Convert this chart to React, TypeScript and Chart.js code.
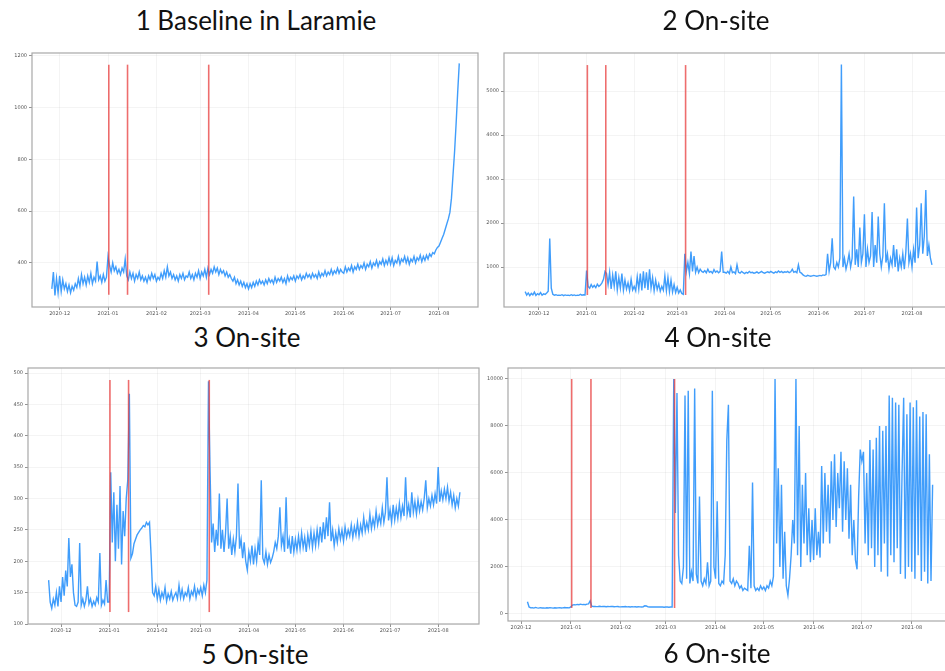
import React, { useEffect, useRef } from "react";
import { Chart, registerables } from "chart.js";

Chart.register(...registerables);

// ---------- shared axis data (x = days since 2020-12-01) ----------
const MONTH_TICKS = [0, 31, 62, 90, 121, 151, 182, 212, 243];
const MONTH_LABELS = ["2020-12", "2021-01", "2021-02", "2021-03", "2021-04", "2021-05", "2021-06", "2021-07", "2021-08"];
const EVENT_DAYS = [31.5, 43.5, 95.5];

// ---------- panel 1: Baseline in Laramie ----------
const P1_START_DAY = -5;
const P1_VALUES = [
  300, 365, 275, 340, 285, 350, 290, 335, 300, 320,
  290, 315, 285, 310, 295, 320, 305, 340, 310, 355,
  320, 345, 315, 350, 325, 360, 320, 345, 330, 405,
  335, 350, 325, 355, 330, 345,
  425, 390, 365, 400, 370, 385, 360, 375, 355, 380, 365, 415,
  350, 335, 365, 340, 360, 330, 355, 340, 365, 335,
  350, 330, 345, 325, 350, 335, 360, 340, 355, 330,
  345, 335, 360, 340, 370, 345, 385, 350, 365, 340,
  355, 335, 350, 330, 355, 340, 360, 335, 350, 345,
  365, 340, 355, 335, 360, 345, 370, 340, 365, 350, 375, 345,
  380, 355, 375, 360, 385, 365, 380, 355, 375, 360, 370, 350, 365, 345, 355, 340,
  330, 345, 320, 335, 315, 330, 310, 325, 305, 320,
  300, 320, 305, 325, 310, 330, 315, 335, 320, 330,
  315, 335, 320, 340, 325, 335, 320, 345, 325, 340,
  330, 345, 325, 340, 320, 350, 330, 345, 335, 350,
  330, 350, 340, 355, 335, 350, 340, 360, 345, 355,
  340, 360, 345, 355, 340, 365, 345, 360, 350, 370,
  350, 365, 355, 375, 355, 370, 360, 380, 360, 375, 365,
  360, 385, 365, 380, 370, 390, 365, 385, 375, 395,
  375, 390, 380, 400, 375, 395, 385, 405, 380, 400,
  390, 410, 385, 405, 395, 415, 390, 410, 395, 420,
  395, 420, 390, 410, 400, 425, 395, 415, 405, 425,
  400, 420, 395, 415, 405, 425, 400, 420, 410, 430,
  405, 425, 410, 430, 415, 435, 425, 440, 435, 450, 460,
  465, 480, 495, 510, 530, 550, 570, 595, 650, 740, 830, 940, 1060, 1170,
];
const P1_Y_TICKS = [400, 600, 800, 1000, 1200];
const P1_EVENT_RANGE = [277, 1165];

// ---------- panel 2 ----------
const P2_START_DAY = -9;
const P2_VALUES = [
  440, 360, 410, 350, 400, 365, 430, 355, 395, 370, 420, 360, 390, 375, 410,
  450, 1650, 520, 380, 360, 370, 355,
  360, 355, 370, 350, 365, 355, 360, 350, 370, 355, 365, 350, 360, 355, 380, 360, 370, 365,
  920,
  560, 520, 600, 540, 580, 530, 610, 560, 590, 640, 720,
  900, 850, 600, 880, 500, 820, 560, 900, 480, 760,
  520, 850, 470, 700, 500, 640, 460, 720, 480, 560,
  460, 780, 500, 850, 470, 900, 520, 880, 480, 950,
  520, 760, 460, 700, 490, 620, 450, 560, 470, 800,
  460, 760, 440, 700, 430, 600, 420, 540, 410, 480, 400, 380,
  1300,
  900, 1100, 850, 1350, 900, 1250, 880, 1000, 870, 950,
  900, 880, 920, 870, 950, 880, 900, 860, 940, 880, 910, 870, 900, 1350, 880,
  880, 860, 900, 850, 1000, 870, 890, 850, 1050, 880, 860, 900, 870, 850, 880, 860, 900, 870, 880, 860,
  870, 890, 860, 880, 900, 870, 860, 880, 890, 870, 900, 880, 860, 890, 870, 910, 880, 900, 870, 890,
  880, 900, 870, 890, 950, 880, 900, 870, 1050, 880, 860, 820, 800, 790, 810, 800, 790, 800, 810, 800, 790,
  800, 810, 800, 820, 810, 830, 1300, 900, 1100, 1650, 1000, 950, 1100, 1000, 1200, 5600, 1000, 1200, 950,
  1100, 1300, 1000, 1200, 2600, 1050, 1400, 1000, 1900, 1100, 1300, 2200,
  1000, 1400, 1100, 1250, 2250, 1000, 1500, 1100, 2150, 1300, 1000, 1250, 2450,
  1100, 1300, 950, 1200, 1050, 1500, 1000, 1400, 900, 1200, 1000, 1300, 950, 1350, 2100, 1100, 1300,
  1000, 1400, 1100, 2350, 1200, 1500, 2450, 1300, 1700, 2750, 1250, 1500, 1200, 1050,
];
const P2_Y_TICKS = [1000, 2000, 3000, 4000, 5000];
const P2_EVENT_RANGE = [364, 5590];

// ---------- panel 3 ----------
const P3_START_DAY = -8;
const P3_VALUES = [
  170, 135, 125, 140, 130, 150, 128, 160, 135,
  175, 145, 185, 160, 237, 175, 195, 150, 130, 128,
  135, 229, 130, 140, 128, 138, 160, 132, 140, 128, 136, 130, 142, 135, 213, 130, 138, 132, 170, 135,
  135, 342,
  230, 310, 200, 290, 220, 320, 195, 280, 240, 300, 330,
  467, 205,
  212, 228, 235, 242, 246, 250, 253, 257, 255, 262, 258, 262, 210,
  150,
  145, 160, 140, 155, 138, 150, 142, 158, 136, 148, 140, 152, 138, 145, 150, 140, 162, 142, 155, 140,
  150, 145, 158, 140, 152, 146, 160, 142, 155, 148, 158, 145, 162, 150, 170,
  487, 345, 230, 260, 215, 250, 225, 308, 220, 250, 215, 245, 300, 220, 240, 210, 235, 215, 240, 324,
  220, 235, 205, 230, 200, 186,
  215, 200, 225, 195, 220, 200, 230, 210, 329, 205, 197, 215, 195, 210, 198, 205, 215, 230, 220, 240,
  286, 225, 240, 215, 302, 220, 235, 212, 240, 215, 235, 218, 240, 220, 245, 222, 238, 215, 242, 225,
  248, 222, 245, 225, 250, 228, 255, 230, 262, 235, 270, 240, 294, 232, 250, 225, 245, 230, 252, 235,
  250, 232, 255, 238, 250, 240, 258, 238, 255, 242, 262, 240, 258, 245, 270, 248, 262, 250, 275, 252,
  268, 255, 280, 258, 272, 260, 285, 262, 278, 334, 265, 282, 262, 290, 266, 285, 268, 292, 270, 288,
  272, 334, 275, 290, 270, 310, 278, 295, 275, 298, 280, 295, 282, 300, 329, 285, 300, 288, 305, 290,
  308, 292, 350, 295, 312, 298, 315, 300, 318, 296, 310, 290, 305, 285, 300, 288, 310,
];
const P3_Y_TICKS = [100, 150, 200, 250, 300, 350, 400, 450, 500];
const P3_EVENT_RANGE = [119, 489];

// ---------- panel 4 ----------
const P4_START_DAY = 4;
const P4_VALUES = [
  520, 300, 260, 270, 250, 280, 260,
  250, 270, 255, 260, 250, 265, 255, 270, 260, 250, 265, 255, 260, 270, 255, 260, 275, 265, 270, 260,
  300, 380, 400, 390, 410, 395, 420, 400, 410, 395, 420, 430, 560,
  330, 320, 325, 315, 320, 330, 315, 325, 320, 310, 320, 315, 325, 320, 310, 315, 320, 310, 305, 315,
  310, 320, 305, 310, 300, 315, 305, 310, 300, 310, 305, 300, 310, 350, 340, 305, 300, 295, 305, 300,
  295, 300, 305, 295, 300, 290, 300, 295, 290, 300, 295,
  10000, 4300, 9400, 2500, 1400, 1300, 2000, 9300, 1500, 9500, 1300, 1800, 1400, 9600, 1700, 1300,
  5000, 1400, 1200, 1500, 1300, 2200, 1200, 1400, 9500, 2000,
  1500, 4800, 1300, 1200, 1400, 1300, 2500, 7400, 8900, 1400, 1300, 1500, 1200, 1400, 1300, 1100,
  1200, 1000, 1100, 1050,
  1000, 2900, 1100, 5600, 1200, 1000, 1100, 1000, 1200, 1050, 1150, 1000, 1200, 1100, 1400, 1200,
  1600, 10000, 3000, 6200,
  2000, 5500, 1500, 3500, 1200, 800, 1500, 2500, 4000, 3000, 10000, 2500, 8000, 2000, 5500, 3000,
  6000, 2500, 4500, 2200,
  4000, 2300, 4500, 2500, 3500, 2400, 6300, 3000, 6000, 3500, 5500, 3000, 6500, 4000, 6800, 3700,
  6000, 4500, 6900, 3500,
  6500, 4000, 6200, 3200, 5500, 2500, 4000, 2300, 1900, 5000, 7000, 6500, 6900, 3000, 6000, 2500,
  7400, 2800, 7000, 2000,
  7500, 2500, 8000, 1800, 7800, 3000, 8000, 1600, 9300, 2500, 9200, 2200, 9000, 2800, 8900, 1700,
  6000, 9200, 1500, 8500,
  2000, 9000, 1800, 8800, 1500, 9100, 2500, 8400, 1400, 8600, 1800, 8500, 1300, 6800, 1400, 5500,
];
const P4_Y_TICKS = [0, 2000, 4000, 6000, 8000, 10000];
const P4_EVENT_RANGE = [255, 10000];

// ---------- layout / styling ----------
type PanelCfg = {
  start: number; values: number[]; yTicks: number[]; eventRange: number[];
  left: number; top: number; width: number; height: number;
  padTop: number; padRight: number; yAxisW: number; xAxisH: number;
  xMin: number; xMax: number; yMin: number; yMax: number;
};

const PANELS: PanelCfg[] = [
  { start: P1_START_DAY, values: P1_VALUES, yTicks: P1_Y_TICKS, eventRange: P1_EVENT_RANGE,
    left: 0, top: 45, width: 485, height: 275, padTop: 8, padRight: 7, yAxisW: 32, xAxisH: 13,
    xMin: -17.7, xMax: 268.0, yMin: 230, yMax: 1210 },
  { start: P2_START_DAY, values: P2_VALUES, yTicks: P2_Y_TICKS, eventRange: P2_EVENT_RANGE,
    left: 480, top: 45, width: 475, height: 275, padTop: 8, padRight: 6, yAxisW: 24, xAxisH: 13,
    xMin: -22.8, xMax: 267.1, yMin: 91, yMax: 5864 },
  { start: P3_START_DAY, values: P3_VALUES, yTicks: P3_Y_TICKS, eventRange: P3_EVENT_RANGE,
    left: 0, top: 360, width: 485, height: 278, padTop: 8, padRight: 6, yAxisW: 28, xAxisH: 14,
    xMin: -21.3, xMax: 269.3, yMin: 100, yMax: 508 },
  { start: P4_START_DAY, values: P4_VALUES, yTicks: P4_Y_TICKS, eventRange: P4_EVENT_RANGE,
    left: 480, top: 360, width: 475, height: 275, padTop: 8, padRight: 6, yAxisW: 28, xAxisH: 14,
    xMin: -8.1, xMax: 266.2, yMin: -298, yMax: 10468 },
];

const TITLES = [
  { text: "1 Baseline in Laramie", cx: 256, cy: 20 },
  { text: "2 On-site", cx: 716, cy: 20 },
  { text: "3 On-site", cx: 247, cy: 337 },
  { text: "4 On-site", cx: 718, cy: 337 },
  { text: "5 On-site", cx: 255, cy: 654 },
  { text: "6 On-site", cx: 717, cy: 653 },
];

const framePlugin = {
  id: "frame",
  afterDraw(chart: any) {
    const { ctx, chartArea } = chart;
    ctx.save();
    ctx.strokeStyle = "#a8a8a8";
    ctx.lineWidth = 1.2;
    ctx.strokeRect(chartArea.left, chartArea.top, chartArea.right - chartArea.left, chartArea.bottom - chartArea.top);
    ctx.restore();
  },
};

function Panel({ cfg }: { cfg: PanelCfg }) {
  const ref = useRef<HTMLCanvasElement | null>(null);
  useEffect(() => {
    if (!ref.current) return;
    const series = cfg.values.map((v, i) => ({ x: cfg.start + i, y: v }));
    const events = EVENT_DAYS.map((d) => ({
      data: [{ x: d, y: cfg.eventRange[0] }, { x: d, y: cfg.eventRange[1] }],
      borderColor: "rgba(232,60,60,0.75)",
      borderWidth: 1.6,
      pointRadius: 0,
      order: 0,
    }));
    const tickFont = { family: "DejaVu Sans", size: 5 };
    const chart = new Chart(ref.current, {
      type: "line",
      data: {
        datasets: [
          ...events,
          {
            data: series,
            borderColor: "rgba(30,140,250,0.85)",
            borderWidth: 1.4,
            pointRadius: 0,
            tension: 0,
            order: 1,
          } as any,
        ],
      },
      options: {
        animation: false,
        responsive: false,
        events: [],
        layout: { padding: { top: cfg.padTop, right: cfg.padRight, left: 0, bottom: 0 } },
        plugins: { legend: { display: false }, tooltip: { enabled: false } },
        scales: {
          x: {
            type: "linear",
            min: cfg.xMin,
            max: cfg.xMax,
            afterBuildTicks: (s: any) => { s.ticks = MONTH_TICKS.map((v) => ({ value: v })); },
            afterFit: (s: any) => { s.height = cfg.xAxisH; },
            ticks: {
              autoSkip: false, maxRotation: 0, padding: 1, color: "#555", font: tickFont,
              callback: (_v: any, i: number) => MONTH_LABELS[i],
            },
            grid: { color: "rgba(0,0,0,0.06)", tickColor: "#777", tickLength: 3, lineWidth: 0.8 },
            border: { display: false },
          },
          y: {
            type: "linear",
            min: cfg.yMin,
            max: cfg.yMax,
            afterBuildTicks: (s: any) => { s.ticks = cfg.yTicks.map((v) => ({ value: v })); },
            afterFit: (s: any) => { s.width = cfg.yAxisW; },
            ticks: { padding: 2, color: "#555", font: tickFont, callback: (v: any) => String(v) },
            grid: { color: "rgba(0,0,0,0.06)", tickColor: "#777", tickLength: 3, lineWidth: 0.8 },
            border: { display: false },
          },
        },
      } as any,
      plugins: [framePlugin],
    });
    return () => chart.destroy();
  }, [cfg]);
  return (
    <canvas
      ref={ref}
      width={cfg.width}
      height={cfg.height}
      style={{ position: "absolute", left: cfg.left, top: cfg.top, width: cfg.width, height: cfg.height }}
    />
  );
}

export default function App() {
  return (
    <div style={{ position: "absolute", left: 0, top: 0, width: 945, height: 671, overflow: "hidden", background: "#fff" }}>
      {PANELS.map((p, i) => <Panel key={i} cfg={p} />)}
      {TITLES.map((t, i) => (
        <div
          key={"t" + i}
          style={{
            position: "absolute", left: t.cx - 200, top: t.cy - 16, width: 400, height: 32,
            lineHeight: "32px", textAlign: "center", fontFamily: "Lato, 'Open Sans', sans-serif",
            fontSize: 26, color: "#111", whiteSpace: "nowrap",
          }}
        >
          {t.text}
        </div>
      ))}
    </div>
  );
}
